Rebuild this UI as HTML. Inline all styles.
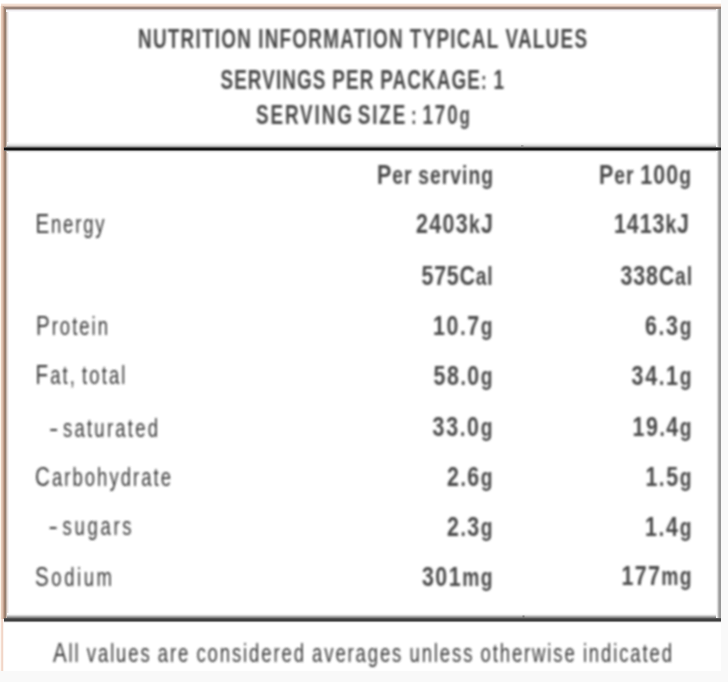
<!DOCTYPE html>
<html><head><meta charset="utf-8"><title>Nutrition Information</title>
<style>
html,body{margin:0;padding:0;background:#f9f9f9;}
body{width:728px;height:682px;overflow:hidden;}
svg{display:block;}
text{font-family:"Liberation Sans",Arial,sans-serif;}
</style></head><body>
<svg width="728" height="682" viewBox="0 0 728 682">
<defs>
<filter id="b" x="-5%" y="-20%" width="110%" height="140%"><feGaussianBlur stdDeviation="0.8"/></filter>
</defs>
<rect x="0" y="0" width="721" height="671" fill="#fff"/>
<rect x="1" y="3" width="720" height="1" fill="#fbf4ef"/><rect x="1" y="4" width="720" height="1" fill="#f2dfd3"/><rect x="1" y="5" width="720" height="1" fill="#efd8ca"/>
<rect x="0" y="6" width="1" height="613" fill="#fcf5ea"/><rect x="1" y="6" width="1" height="613" fill="#e7cab9"/><rect x="2" y="6" width="1" height="613" fill="#dcbdab"/><rect x="3" y="6" width="1" height="613" fill="#c3a28e"/><rect x="4" y="6" width="1" height="613" fill="#a3836f"/><rect x="5" y="6" width="1" height="613" fill="#938071"/><rect x="6" y="6" width="1" height="613" fill="#c5b6ac"/><rect x="7" y="6" width="1" height="613" fill="#e8dfdb"/><rect x="8" y="6" width="1" height="613" fill="#f4f1f2"/>
<rect x="4" y="6" width="717" height="1" fill="#cdb3a5"/><rect x="4" y="7" width="717" height="1" fill="#998379"/><rect x="4" y="8" width="717" height="1" fill="#958177"/>
<rect x="6" y="9" width="715" height="1" fill="#c9bfbd"/><rect x="6" y="10" width="715" height="1" fill="#f0edf0"/><rect x="6" y="11" width="715" height="1" fill="#f8f7f9"/>
<rect x="0" y="619" width="1" height="52" fill="#fdf7f2"/><rect x="1" y="619" width="1" height="52" fill="#f4dccf"/><rect x="2" y="619" width="1" height="52" fill="#f1d5c7"/><rect x="3" y="619" width="1" height="52" fill="#fbf5f1"/><rect x="4" y="619" width="1" height="52" fill="#fff"/><rect x="5" y="619" width="1" height="52" fill="#fff"/><rect x="6" y="619" width="1" height="52" fill="#fff"/><rect x="7" y="619" width="1" height="52" fill="#fff"/>
<rect x="716" y="9" width="1" height="609" fill="#f6f6f6"/><rect x="717" y="9" width="1" height="609" fill="#dcdcdc"/><rect x="718" y="9" width="1" height="609" fill="#b4b4b4"/><rect x="719" y="9" width="1" height="609" fill="#9c9c9c"/><rect x="720" y="9" width="1" height="609" fill="#979797"/>
<rect x="7" y="142" width="709" height="1" fill="#fbfbfb"/><rect x="7" y="143" width="709" height="1" fill="#f3f3f3"/><rect x="7" y="144" width="709" height="1" fill="#e6e6e6"/><rect x="7" y="145" width="709" height="1" fill="#d2d2d2"/><rect x="7" y="146" width="709" height="1" fill="#a8a8a8"/>
<rect x="4" y="147" width="717" height="1" fill="#5a5a5a"/><rect x="4" y="148" width="717" height="1" fill="#151515"/><rect x="4" y="149" width="717" height="1" fill="#121212"/><rect x="4" y="150" width="717" height="1" fill="#6e6e6e"/>
<rect x="7" y="151" width="709" height="1" fill="#dedede"/><rect x="7" y="152" width="709" height="1" fill="#f7f7f7"/>
<rect x="7" y="613" width="709" height="1" fill="#fcfcfc"/><rect x="7" y="614" width="709" height="1" fill="#f3f3f3"/><rect x="7" y="615" width="709" height="1" fill="#d4d4d4"/><rect x="7" y="616" width="709" height="1" fill="#acacac"/><rect x="7" y="617" width="709" height="1" fill="#858585"/>
<rect x="4" y="618" width="717" height="1" fill="#555555"/><rect x="4" y="619" width="717" height="1" fill="#404040"/><rect x="4" y="620" width="717" height="1" fill="#3e3e3e"/><rect x="4" y="621" width="717" height="1" fill="#8a8a8a"/><rect x="4" y="622" width="717" height="1" fill="#ececec"/>
<rect x="521" y="145" width="2.5" height="2.5" fill="#777" opacity="0.5"/>
<rect x="522.5" y="615.5" width="2" height="2" fill="#555" opacity="0.6"/>
<g filter="url(#b)">
<text transform="translate(138.00 47.80) scale(0.68 1)" font-size="25.02" font-weight="700" textLength="660.29" lengthAdjust="spacing" fill="#484848"><tspan font-size="27.80">NUTRITION</tspan> <tspan font-size="27.80">INFORMATION</tspan> <tspan font-size="27.80">TYPICAL</tspan> <tspan font-size="27.80">VALUES</tspan></text>
<text transform="translate(220.50 88.50) scale(0.68 1)" font-size="25.02" font-weight="700" textLength="416.91" lengthAdjust="spacing" fill="#484848"><tspan font-size="27.80">SERVINGS</tspan> <tspan font-size="27.80">PER</tspan> <tspan font-size="27.80">PACKAGE</tspan>: <tspan font-size="27.80">1</tspan></text>
<text transform="translate(256.00 124.20) scale(0.68 1)" font-size="25.02" font-weight="700" textLength="314.71" lengthAdjust="spacing" fill="#484848" word-spacing="-4"><tspan font-size="27.80">SERVING</tspan> <tspan font-size="27.80">SIZE</tspan> : <tspan font-size="27.80">170</tspan>g</text>
<text transform="translate(377.00 184.20) scale(0.77 1)" font-size="25.02" font-weight="700" textLength="150.65" lengthAdjust="spacing" fill="#484848" word-spacing="-1"><tspan font-size="27.80">P</tspan>er serving</text>
<text transform="translate(599.00 183.50) scale(0.77 1)" font-size="25.02" font-weight="700" textLength="119.48" lengthAdjust="spacing" fill="#484848" word-spacing="-1"><tspan font-size="27.80">P</tspan>er <tspan font-size="27.80">100</tspan>g</text>
<text transform="translate(35.50 232.50) scale(0.74 1)" font-size="25.02" font-weight="400" textLength="93.24" lengthAdjust="spacing" fill="#383838" word-spacing="-3"><tspan font-size="27.80">E</tspan>nergy</text>
<text transform="translate(416.00 232.50) scale(0.77 1)" font-size="25.02" font-weight="700" textLength="100.00" lengthAdjust="spacing" fill="#484848" word-spacing="-3"><tspan font-size="27.80">2403</tspan>k<tspan font-size="27.80">J</tspan></text>
<text transform="translate(614.00 232.50) scale(0.77 1)" font-size="25.02" font-weight="700" textLength="97.40" lengthAdjust="spacing" fill="#484848" word-spacing="-3"><tspan font-size="27.80">1413</tspan>k<tspan font-size="27.80">J</tspan></text>
<text transform="translate(421.50 285.00) scale(0.77 1)" font-size="25.02" font-weight="700" textLength="92.21" lengthAdjust="spacing" fill="#484848" word-spacing="-3"><tspan font-size="27.80">575C</tspan>al</text>
<text transform="translate(620.50 285.00) scale(0.77 1)" font-size="25.02" font-weight="700" textLength="92.86" lengthAdjust="spacing" fill="#484848" word-spacing="-3"><tspan font-size="27.80">338C</tspan>al</text>
<text transform="translate(36.00 334.80) scale(0.74 1)" font-size="25.02" font-weight="400" textLength="97.30" lengthAdjust="spacing" fill="#383838" word-spacing="-3"><tspan font-size="27.80">P</tspan>rotein</text>
<text transform="translate(433.00 334.80) scale(0.77 1)" font-size="25.02" font-weight="700" textLength="77.27" lengthAdjust="spacing" fill="#484848" word-spacing="-3"><tspan font-size="27.80">10</tspan>.<tspan font-size="27.80">7</tspan>g</text>
<text transform="translate(645.00 335.00) scale(0.77 1)" font-size="25.02" font-weight="700" textLength="60.39" lengthAdjust="spacing" fill="#484848" word-spacing="-3"><tspan font-size="27.80">6</tspan>.<tspan font-size="27.80">3</tspan>g</text>
<text transform="translate(35.50 384.10) scale(0.74 1)" font-size="25.02" font-weight="400" textLength="121.62" lengthAdjust="spacing" fill="#383838" word-spacing="-3"><tspan font-size="27.80">F</tspan>at, total</text>
<text transform="translate(433.50 384.50) scale(0.77 1)" font-size="25.02" font-weight="700" textLength="76.62" lengthAdjust="spacing" fill="#484848" word-spacing="-3"><tspan font-size="27.80">58</tspan>.<tspan font-size="27.80">0</tspan>g</text>
<text transform="translate(631.50 384.50) scale(0.77 1)" font-size="25.02" font-weight="700" textLength="77.92" lengthAdjust="spacing" fill="#484848" word-spacing="-3"><tspan font-size="27.80">34</tspan>.<tspan font-size="27.80">1</tspan>g</text>
<text transform="translate(49.00 436.50) scale(1.12 1)" font-size="25.00" font-weight="400" textLength="5.80" lengthAdjust="spacing" fill="#383838" word-spacing="-3">-</text>
<text transform="translate(63.00 436.50) scale(0.74 1)" font-size="25.02" font-weight="400" textLength="128.38" lengthAdjust="spacing" fill="#383838" word-spacing="-3">saturated</text>
<text transform="translate(432.50 435.50) scale(0.77 1)" font-size="25.02" font-weight="700" textLength="77.92" lengthAdjust="spacing" fill="#484848" word-spacing="-3"><tspan font-size="27.80">33</tspan>.<tspan font-size="27.80">0</tspan>g</text>
<text transform="translate(632.50 436.10) scale(0.77 1)" font-size="25.02" font-weight="700" textLength="76.62" lengthAdjust="spacing" fill="#484848" word-spacing="-3"><tspan font-size="27.80">19</tspan>.<tspan font-size="27.80">4</tspan>g</text>
<text transform="translate(35.00 485.80) scale(0.74 1)" font-size="25.02" font-weight="400" textLength="183.78" lengthAdjust="spacing" fill="#383838" word-spacing="-3"><tspan font-size="27.80">C</tspan>arbohydrate</text>
<text transform="translate(447.00 485.50) scale(0.77 1)" font-size="25.02" font-weight="700" textLength="59.09" lengthAdjust="spacing" fill="#484848" word-spacing="-3"><tspan font-size="27.80">2</tspan>.<tspan font-size="27.80">6</tspan>g</text>
<text transform="translate(645.50 486.10) scale(0.77 1)" font-size="25.02" font-weight="700" textLength="59.74" lengthAdjust="spacing" fill="#484848" word-spacing="-3"><tspan font-size="27.80">1</tspan>.<tspan font-size="27.80">5</tspan>g</text>
<text transform="translate(48.50 535.10) scale(1.12 1)" font-size="25.00" font-weight="400" textLength="5.80" lengthAdjust="spacing" fill="#383838" word-spacing="-3">-</text>
<text transform="translate(62.50 535.10) scale(0.74 1)" font-size="25.02" font-weight="400" textLength="93.24" lengthAdjust="spacing" fill="#383838" word-spacing="-3">sugars</text>
<text transform="translate(447.00 535.80) scale(0.77 1)" font-size="25.02" font-weight="700" textLength="59.09" lengthAdjust="spacing" fill="#484848" word-spacing="-3"><tspan font-size="27.80">2</tspan>.<tspan font-size="27.80">3</tspan>g</text>
<text transform="translate(645.00 535.80) scale(0.77 1)" font-size="25.02" font-weight="700" textLength="60.39" lengthAdjust="spacing" fill="#484848" word-spacing="-3"><tspan font-size="27.80">1</tspan>.<tspan font-size="27.80">4</tspan>g</text>
<text transform="translate(35.00 585.70) scale(0.74 1)" font-size="25.02" font-weight="400" textLength="104.05" lengthAdjust="spacing" fill="#383838" word-spacing="-3"><tspan font-size="27.80">S</tspan>odium</text>
<text transform="translate(422.00 585.70) scale(0.77 1)" font-size="25.02" font-weight="700" textLength="91.56" lengthAdjust="spacing" fill="#484848" word-spacing="-3"><tspan font-size="27.80">301</tspan>mg</text>
<text transform="translate(621.50 584.50) scale(0.77 1)" font-size="25.02" font-weight="700" textLength="90.91" lengthAdjust="spacing" fill="#484848" word-spacing="-3"><tspan font-size="27.80">177</tspan>mg</text>
<text transform="translate(53.00 661.50) scale(0.74 1)" font-size="25.02" font-weight="400" textLength="836.49" lengthAdjust="spacing" fill="#383838" word-spacing="-1"><tspan font-size="27.80">A</tspan>ll values are considered averages unless otherwise indicated</text>
</g>
</svg>
</body></html>
